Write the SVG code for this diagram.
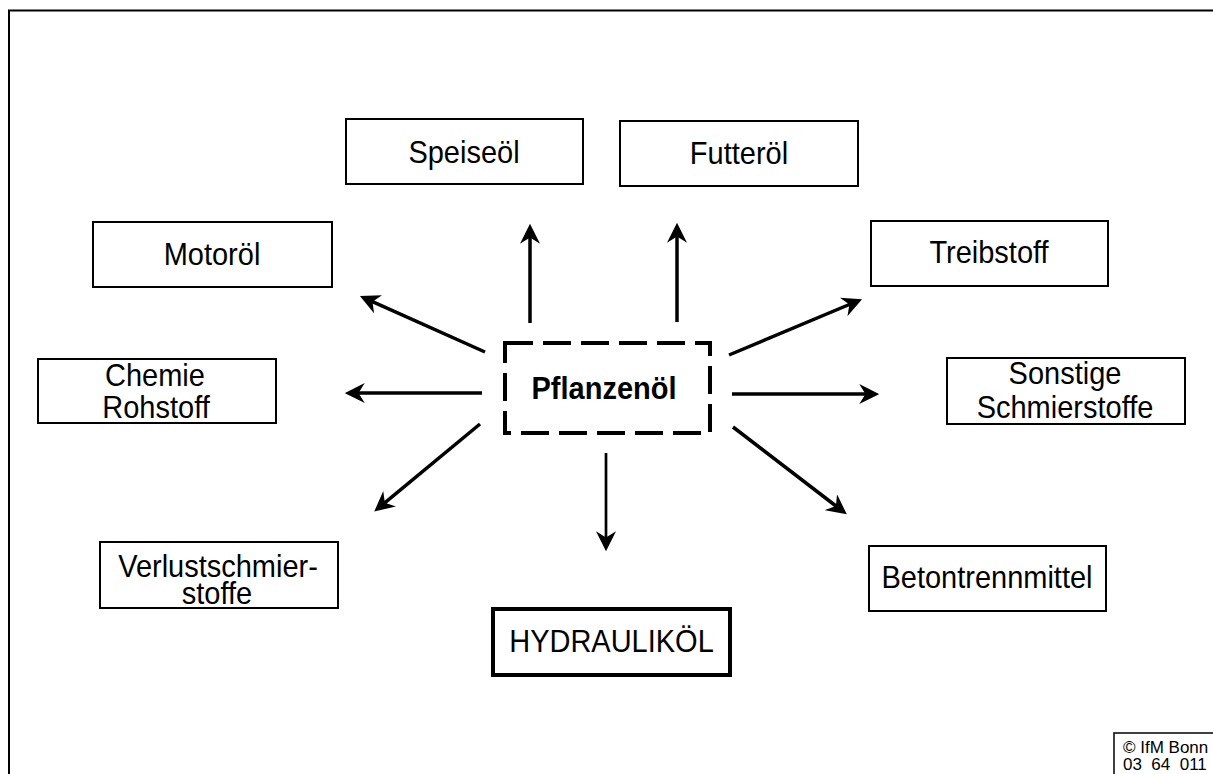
<svg xmlns="http://www.w3.org/2000/svg" width="1213" height="774" viewBox="0 0 1213 774">
<style>
.box{fill:#fff;stroke:#000;stroke-width:2}
.thick{fill:#fff;stroke:#000;stroke-width:4}
.dash{fill:#fff;stroke:#000;stroke-width:4;stroke-dasharray:28 10}
.lbl{font-family:"Liberation Sans",Arial,sans-serif;font-size:29px;fill:#000;text-anchor:middle}
.bold{font-weight:bold}
.arr{stroke:#000;stroke-width:3.5;fill:none;marker-end:url(#ah)}
.thin{stroke-width:2.7}
.copy{font-family:"Liberation Sans",Arial,sans-serif;font-size:17px;fill:#000;white-space:pre}
</style>
<defs>
<marker id="ah" markerUnits="userSpaceOnUse" markerWidth="20" markerHeight="20" viewBox="0 0 16 16" refX="7" refY="8" orient="auto">
<path d="M0,0 L16,8 L0,16 L5,8 Z" fill="#000"/>
</marker>
</defs>
<rect width="1213" height="774" fill="#fff"/>
<path d="M9,774 V10.5 H1213" fill="none" stroke="#000" stroke-width="2"/>

<g id="connectors">
<line class="arr" x1="530" y1="323" x2="530" y2="235"/>
<line class="arr" x1="677" y1="322" x2="677" y2="234"/>
<line class="arr" x1="485" y1="352" x2="370.2" y2="300.7"/>
<line class="arr" x1="482" y1="393" x2="356" y2="393"/>
<line class="arr" x1="480" y1="424" x2="382.9" y2="504.3"/>
<line class="arr thin" x1="606" y1="453" x2="606" y2="540"/>
<line class="arr" x1="733" y1="427" x2="837.9" y2="507.5"/>
<line class="arr" x1="732" y1="394" x2="868" y2="394"/>
<line class="arr" x1="729" y1="355" x2="851.7" y2="303.5"/>
</g>

<g id="pflanzenoel">
<rect class="dash" x="505" y="343" width="205" height="90"/>
<text class="lbl bold" transform="matrix(1,0,0,1.1,604,399)">Pflanzenöl</text>
</g>
<g id="speiseoel">
<rect class="box" x="346" y="119" width="237" height="65"/>
<text class="lbl" transform="matrix(1,0,0,1.1,464,163)">Speiseöl</text>
</g>
<g id="futteroel">
<rect class="box" x="620" y="121" width="238" height="65"/>
<text class="lbl" transform="matrix(1,0,0,1.1,739,164)">Futteröl</text>
</g>
<g id="motoroel">
<rect class="box" x="93" y="222" width="239" height="65"/>
<text class="lbl" transform="matrix(1,0,0,1.1,212,265)">Motoröl</text>
</g>
<g id="treibstoff">
<rect class="box" x="871" y="221" width="237" height="65"/>
<text class="lbl" transform="matrix(1,0,0,1.1,989,263)">Treibstoff</text>
</g>
<g id="chemie">
<rect class="box" x="38" y="359" width="238" height="64"/>
<text class="lbl" transform="matrix(1,0,0,1.1,155,386)">Chemie</text>
<text class="lbl" transform="matrix(1,0,0,1.1,156,418)">Rohstoff</text>
</g>
<g id="sonstige">
<rect class="box" x="947" y="358" width="238" height="66"/>
<text class="lbl" transform="matrix(1,0,0,1.1,1065,384)">Sonstige</text>
<text class="lbl" transform="matrix(1,0,0,1.1,1065,418)">Schmierstoffe</text>
</g>
<g id="verlust">
<rect class="box" x="100" y="542" width="238" height="66"/>
<text class="lbl" transform="matrix(1,0,0,1.1,218,577)">Verlustschmier-</text>
<text class="lbl" transform="matrix(1,0,0,1.1,217,604)">stoffe</text>
</g>
<g id="hydraulikoel">
<rect class="thick" x="493" y="609" width="237" height="66"/>
<text class="lbl" transform="matrix(1,0,0,1.1,611.5,652)">HYDRAULIKÖL</text>
</g>
<g id="betontrennmittel">
<rect class="box" x="869" y="546" width="237" height="65"/>
<text class="lbl" transform="matrix(1,0,0,1.1,987,588)">Betontrennmittel</text>
</g>
<g id="copyright">
<rect x="1114" y="733" width="120" height="60" fill="#fff" stroke="#000" stroke-width="1.5"/>
<text class="copy" x="1123" y="753">© IfM Bonn</text>
<text class="copy" x="1123" y="770">03  64  011</text>
</g>
</svg>
